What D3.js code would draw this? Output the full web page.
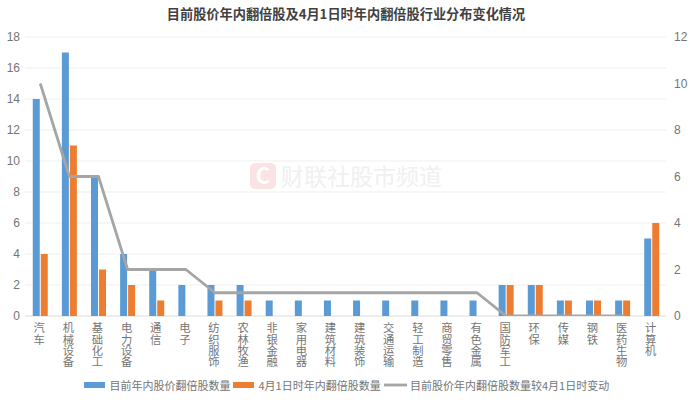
<!DOCTYPE html>
<html>
<head>
<meta charset="utf-8">
<script src="https://cdn.jsdelivr.net/npm/d3@7/dist/d3.min.js"></script>
<style>
  html, body { margin: 0; padding: 0; background: #fff; }
  svg { display: block; font-family: "Noto Sans CJK SC", sans-serif; }
</style>
</head>
<body>
<div id="chart"></div>
<script>
// values
const categories = ["汽车", "机械设备", "基础化工", "电力设备", "通信", "电子", "纺织服饰", "农林牧渔",
    "非银金融", "家用电器", "建筑材料", "建筑装饰", "交通运输", "轻工制造", "商贸零售", "有色金属",
    "国防军工", "环保", "传媒", "钢铁", "医药生物", "计算机"];
const currentCount = [14, 17, 9, 4, 3, 2, 2, 2, 1, 1, 1, 1, 1, 1, 1, 1, 2, 2, 1, 1, 1, 5];
const aprilCount = [4, 11, 3, 2, 1, 0, 1, 1, 0, 0, 0, 0, 0, 0, 0, 0, 2, 2, 1, 1, 1, 6];
// the last point falls under the axis and is cut off there
const change = [10, 6, 6, 2, 2, 2, 1, 1, 1, 1, 1, 1, 1, 1, 1, 1, 0, 0, 0, 0, 0, -1];
const leftTicks = [0, 2, 4, 6, 8, 10, 12, 14, 16, 18];
const rightTicks = [0, 2, 4, 6, 8, 10, 12];

const titleText = "目前股价年内翻倍股及4月1日时年内翻倍股行业分布变化情况";
const legendNames = ["目前年内股价翻倍股数量", "4月1日时年内翻倍股数量", "目前股价年内翻倍股数量较4月1日时变动"];

const blue = "#5b9bd5", orange = "#ed7d31", grey = "#a5a5a5", textColor = "#757575";

const width = 692, height = 400;
const plotLeft = 25, plotRight = 666, plotTop = 37, plotBottom = 316;

const svg = d3.select("#chart").append("svg")
    .attr("width", width)
    .attr("height", height);

svg.append("clipPath").attr("id", "plot-clip")
    .append("rect")
    .attr("x", plotLeft).attr("y", plotTop)
    .attr("width", plotRight - plotLeft).attr("height", plotBottom - plotTop);

const x = d3.scaleBand().domain(categories).range([plotLeft + 0.7, plotRight + 0.3]);
const yLeft = d3.scaleLinear().domain([0, 18]).range([plotBottom, plotTop]);
const yRight = d3.scaleLinear().domain([0, 12]).range([plotBottom, plotTop]);

// watermark
const mark = svg.append("g");
mark.append("rect")
    .attr("x", 250).attr("y", 163).attr("width", 26).attr("height", 26).attr("rx", 5)
    .attr("fill", "#fbe3e3");
mark.append("text")
    .attr("x", 263).attr("y", 184).attr("text-anchor", "middle")
    .attr("font-size", 22).attr("font-weight", "bold").attr("fill", "#fff")
    .text("C");
mark.append("text")
    .attr("x", 281).attr("y", 185)
    .attr("font-size", 23).attr("fill", "#f0f0f0")
    .text("财联社股市频道");

// grid
svg.append("g")
    .selectAll("line")
    .data(leftTicks.filter(d => d > 0))
    .enter().append("line")
    .attr("x1", plotLeft).attr("x2", plotRight)
    .attr("y1", d => yLeft(d)).attr("y2", d => yLeft(d))
    .attr("stroke", "#efefef");

// axes
const axisL = svg.append("g")
    .attr("transform", `translate(${plotLeft},0)`)
    .call(d3.axisLeft(yLeft).tickValues(leftTicks).tickSize(0).tickPadding(4));
const axisR = svg.append("g")
    .attr("transform", `translate(${plotRight},0)`)
    .call(d3.axisRight(yRight).tickValues(rightTicks).tickSize(0).tickPadding(8));
[axisL, axisR].forEach(a => {
    a.select(".domain").remove();
    a.selectAll("text").attr("font-size", 12).attr("fill", textColor)
        .attr("font-family", "'Liberation Sans', sans-serif");
});
axisL.selectAll("text").attr("dx", -1);

svg.append("line")
    .attr("x1", plotLeft).attr("x2", plotRight)
    .attr("y1", plotBottom).attr("y2", plotBottom)
    .attr("stroke", "#dcdcdc");

// bars
const barW = 7;
svg.append("g").selectAll("rect")
    .data(categories.map((c, i) => ({ c: c, v: currentCount[i] })))
    .enter().append("rect")
    .attr("x", d => x(d.c) + x.bandwidth() / 2 - barW - 0.5)
    .attr("y", d => yLeft(d.v))
    .attr("width", barW)
    .attr("height", d => plotBottom - yLeft(d.v))
    .attr("fill", blue);

svg.append("g").selectAll("rect")
    .data(categories.map((c, i) => ({ c: c, v: aprilCount[i] })))
    .enter().append("rect")
    .attr("x", d => x(d.c) + x.bandwidth() / 2 + 0.5)
    .attr("y", d => yLeft(d.v))
    .attr("width", barW)
    .attr("height", d => plotBottom - yLeft(d.v))
    .attr("fill", orange);

// change line, on the right axis
const line = d3.line()
    .x(d => x(d.c) + x.bandwidth() / 2)
    .y(d => yRight(d.v));

svg.append("path")
    .datum(categories.map((c, i) => ({ c: c, v: change[i] })))
    .attr("d", line)
    .attr("fill", "none")
    .attr("stroke", grey)
    .attr("stroke-width", 2.8)
    .attr("stroke-linejoin", "round")
    .attr("clip-path", "url(#plot-clip)");

// category labels run top to bottom
svg.append("g").selectAll("text")
    .data(categories)
    .enter().append("text")
    .attr("x", d => x(d) + x.bandwidth() / 2 - 1)
    .attr("y", 322.5)
    .attr("font-size", 11.3)
    .attr("fill", textColor)
    .style("writing-mode", "vertical-rl")
    .style("text-orientation", "upright")
    .text(d => d);

// title
svg.append("text")
    .attr("x", 346).attr("y", 19)
    .attr("text-anchor", "middle")
    .attr("font-size", 13.2)
    .attr("font-weight", "bold")
    .attr("fill", "#404040")
    .text(titleText);

// legend
const legend = svg.append("g").attr("font-size", 11).attr("fill", textColor);
legend.append("rect").attr("x", 84).attr("y", 382).attr("width", 21).attr("height", 6).attr("fill", blue);
legend.append("text").attr("x", 109.5).attr("y", 390).text(legendNames[0]);
legend.append("rect").attr("x", 233).attr("y", 382).attr("width", 21).attr("height", 6).attr("fill", orange);
legend.append("text").attr("x", 258.5).attr("y", 390).text(legendNames[1]);
legend.append("line").attr("x1", 384).attr("x2", 407).attr("y1", 385).attr("y2", 385)
    .attr("stroke", grey).attr("stroke-width", 2.8);
legend.append("text").attr("x", 410).attr("y", 390).text(legendNames[2]);
</script>
</body>
</html>
